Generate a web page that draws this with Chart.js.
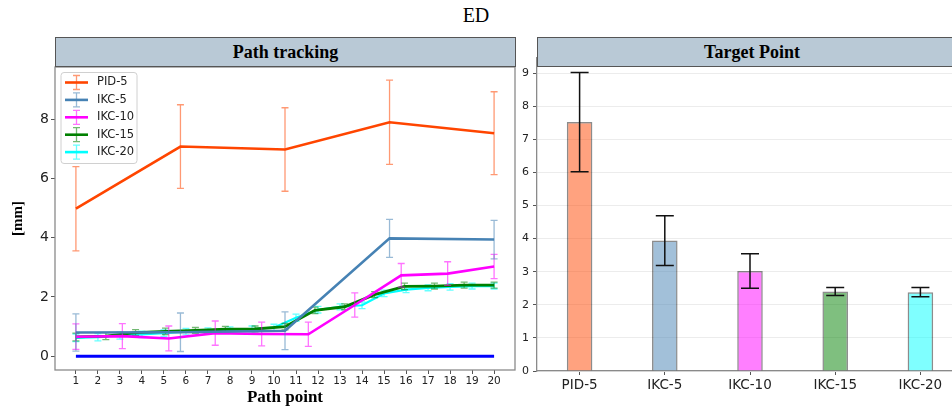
<!DOCTYPE html>
<html>
<head>
<meta charset="utf-8">
<script src="https://cdn.jsdelivr.net/npm/chart.js@4.4.1/dist/chart.umd.min.js"></script>
<style>
html, body { margin: 0; padding: 0; width: 952px; height: 412px; overflow: hidden; background: #fff; }
#suptitle { position: absolute; left: 0; top: 4px; width: 952px; text-align: center; font: 20px "Liberation Serif", serif; color: #000; }
.head { position: absolute; top: 37px; height: 30px; background: #b9c9d6; border: 1px solid #555; box-sizing: border-box; font: bold 18px "Liberation Serif", serif; text-align: center; line-height: 28px; color: #000; z-index: 2; }
#leftWrap { position: absolute; left: 0; top: 0; }
#rightWrap { position: absolute; left: 480px; top: 0; }
</style>
</head>
<body>
<div id="suptitle">ED</div>
<div class="head" style="left:55px; width:461px;">Path tracking</div>
<div class="head" style="left:537px; width:430px;">Target Point</div>
<div id="leftWrap"><canvas id="pathChart" width="525" height="412"></canvas></div>
<div id="rightWrap"><canvas id="targetChart" width="490" height="412"></canvas></div>

<script>
// path tracking data (x = path point, y = error in mm)
const pathX5 = [1, 5.75, 10.5, 15.25, 20];
const pathX10 = [1, 3.11, 5.22, 7.33, 9.44, 11.56, 13.67, 15.78, 17.89, 20];
const pathX15 = [1, 2.36, 3.71, 5.07, 6.43, 7.79, 9.14, 10.5, 11.86, 13.21, 14.57, 15.93, 17.29, 18.64, 20];
const pathX20 = [1, 2, 3, 4, 5, 6, 7, 8, 9, 10, 11, 12, 13, 14, 15, 16, 17, 18, 19, 20];

const pid5Mean = [4.98, 7.08, 6.98, 7.90, 7.53];
const pid5Err = [1.42, 1.41, 1.41, 1.42, 1.40];
const ikc5Mean = [0.80, 0.81, 0.86, 3.98, 3.94];
const ikc5Err = [0.63, 0.65, 0.64, 0.64, 0.65];
const ikc10Mean = [0.66, 0.68, 0.60, 0.78, 0.75, 0.74, 1.73, 2.73, 2.79, 3.03];
const ikc10Err = [0.43, 0.42, 0.42, 0.41, 0.40, 0.41, 0.41, 0.40, 0.40, 0.41];
const ikc15Mean = [0.65, 0.68, 0.80, 0.84, 0.87, 0.91, 0.92, 1.00, 1.55, 1.67, 2.08, 2.36, 2.37, 2.40, 2.40];
const ikc15Err = [0.13, 0.12, 0.10, 0.11, 0.10, 0.10, 0.10, 0.11, 0.11, 0.10, 0.10, 0.11, 0.10, 0.10, 0.10];
const ikc20Mean = [0.62, 0.64, 0.70, 0.74, 0.78, 0.83, 0.86, 0.88, 0.92, 0.97, 1.30, 1.57, 1.67, 1.72, 2.12, 2.25, 2.31, 2.34, 2.37, 2.37];
const ikc20Err = [0.13, 0.12, 0.12, 0.11, 0.11, 0.11, 0.10, 0.11, 0.10, 0.11, 0.12, 0.11, 0.10, 0.11, 0.11, 0.10, 0.10, 0.11, 0.10, 0.10];

const refLineX = [1, 20];
const refLineY = [0, 0];

const xTicksLeft = [1, 2, 3, 4, 5, 6, 7, 8, 9, 10, 11, 12, 13, 14, 15, 16, 17, 18, 19, 20];
const yTicksLeft = [0, 2, 4, 6, 8];

// target point data
const targetLabels = ["PID-5", "IKC-5", "IKC-10", "IKC-15", "IKC-20"];
const targetMean = [7.52, 3.94, 3.02, 2.40, 2.38];
const targetErr = [1.50, 0.75, 0.52, 0.12, 0.14];
const yTicksRight = [0, 1, 2, 3, 4, 5, 6, 7, 8, 9];

const barFill = ["rgba(255,69,0,0.5)", "rgba(70,130,180,0.5)", "rgba(255,0,255,0.5)", "rgba(0,128,0,0.5)", "rgba(0,255,255,0.5)"];

Chart.defaults.font.family = "'DejaVu Sans', sans-serif";
Chart.defaults.color = "#222";


function points(xs, ys) {
    return xs.map((x, i) => ({ x: x, y: ys[i] }));
}

function series(label, xs, ys, errs, color, errColor, width, order) {
    return {
        label: label,
        data: points(xs, ys),
        errors: errs,
        errorColor: errColor,
        borderColor: color,
        backgroundColor: color,
        borderWidth: width,
        pointRadius: 0,
        tension: 0,
        order: order
    };
}


// error bars drawn under each line, same as matplotlib errorbar
const lineErrorBars = {
    id: "lineErrorBars",
    beforeDatasetDraw(chart, args) {
        const ds = chart.data.datasets[args.index];
        if (!ds.errors) return;
        const ctx = chart.ctx;
        const xs = chart.scales.x, ys = chart.scales.y;
        const cap = 3.5;
        ctx.save();
        ctx.strokeStyle = ds.errorColor;
        ctx.lineWidth = 1.3;
        ds.data.forEach((p, i) => {
            const px = xs.getPixelForValue(p.x);
            const top = ys.getPixelForValue(p.y + ds.errors[i]);
            const bot = ys.getPixelForValue(p.y - ds.errors[i]);
            ctx.beginPath();
            ctx.moveTo(px, top); ctx.lineTo(px, bot);
            ctx.moveTo(px - cap, top); ctx.lineTo(px + cap, top);
            ctx.moveTo(px - cap, bot); ctx.lineTo(px + cap, bot);
            ctx.stroke();
        });
        ctx.restore();
    }
};


const frameAndLegend = {
    id: "frameAndLegend",
    afterDraw(chart) {
        const ctx = chart.ctx, a = chart.chartArea;
        ctx.save();
        ctx.strokeStyle = "#8a8a8a";
        ctx.lineWidth = 1.3;
        ctx.strokeRect(a.left, a.top, a.right - a.left, a.bottom - a.top);

        const items = chart.data.datasets.filter(d => d.errors);
        const bx = a.left + 6, by = a.top + 5.5, bw = 76, rowH = 17.4;
        const bh = items.length * rowH + 4;
        ctx.fillStyle = "rgba(255,255,255,0.85)";
        ctx.strokeStyle = "#d0d0d0";
        ctx.lineWidth = 1;
        ctx.beginPath();
        ctx.roundRect(bx, by, bw, bh, 3);
        ctx.fill();
        ctx.stroke();

        items.forEach((d, i) => {
            const cy = by + 10 + i * rowH;
            const cx = bx + 15.5;
            ctx.strokeStyle = d.errorColor;
            ctx.lineWidth = 1.3;
            ctx.beginPath();
            ctx.moveTo(cx, cy - 7); ctx.lineTo(cx, cy + 7);
            ctx.moveTo(cx - 3.5, cy - 7); ctx.lineTo(cx + 3.5, cy - 7);
            ctx.moveTo(cx - 3.5, cy + 7); ctx.lineTo(cx + 3.5, cy + 7);
            ctx.stroke();
            ctx.strokeStyle = d.borderColor;
            ctx.lineWidth = 2.6;
            ctx.beginPath();
            ctx.moveTo(bx + 4, cy); ctx.lineTo(bx + 27, cy);
            ctx.stroke();
            ctx.fillStyle = "#222";
            ctx.font = "11.5px 'DejaVu Sans'";
            ctx.textBaseline = "middle";
            ctx.fillText(d.label, bx + 36, cy);
        });
        ctx.restore();
    }
};


const barErrorBars = {
    id: "barErrorBars",
    afterDatasetsDraw(chart) {
        const ctx = chart.ctx, ys = chart.scales.y;
        const meta = chart.getDatasetMeta(0);
        const ds = chart.data.datasets[0];
        ctx.save();
        ctx.strokeStyle = "#111";
        ctx.lineWidth = 1.5;
        meta.data.forEach((bar, i) => {
            const top = ys.getPixelForValue(ds.data[i] + ds.errors[i]);
            const bot = ys.getPixelForValue(ds.data[i] - ds.errors[i]);
            ctx.beginPath();
            ctx.moveTo(bar.x, top); ctx.lineTo(bar.x, bot);
            ctx.moveTo(bar.x - 9, top); ctx.lineTo(bar.x + 9, top);
            ctx.moveTo(bar.x - 9, bot); ctx.lineTo(bar.x + 9, bot);
            ctx.stroke();
        });
        ctx.restore();
    }
};


function drawPathChart() {

    const ctx = document.getElementById("pathChart").getContext("2d");

    new Chart(ctx, {
        type: "line",
        data: {
            datasets: [
                series("PID-5", pathX5, pid5Mean, pid5Err, "#ff4500", "rgba(255,69,0,0.55)", 2.6, 1),
                series("IKC-5", pathX5, ikc5Mean, ikc5Err, "#4682b4", "rgba(70,130,180,0.55)", 2.6, 2),
                series("IKC-10", pathX10, ikc10Mean, ikc10Err, "#ff00ff", "rgba(255,0,255,0.55)", 2.6, 3),
                series("IKC-15", pathX15, ikc15Mean, ikc15Err, "#008000", "rgba(0,128,0,0.55)", 2.8, 4),
                series("IKC-20", pathX20, ikc20Mean, ikc20Err, "#00ffff", "rgba(0,255,255,0.6)", 2.2, 5),
                {
                    label: "ref",
                    data: points(refLineX, refLineY),
                    borderColor: "#0000ff",
                    borderWidth: 3,
                    pointRadius: 0,
                    order: 0
                }
            ]
        },
        options: {
            responsive: false,
            animation: false,
            layout: { padding: { top: 67, right: 10, left: 0, bottom: 0 } },
            plugins: { legend: { display: false }, tooltip: { enabled: false } },
            scales: {
                x: {
                    type: "linear",
                    min: 0.05,
                    max: 20.95,
                    afterBuildTicks: s => { s.ticks = xTicksLeft.map(v => ({ value: v })); },
                    afterFit: s => { s.height = 42; },
                    ticks: { font: { size: 10.5 }, padding: 1, maxRotation: 0, autoSkip: false },
                    grid: { drawOnChartArea: false, tickLength: 4, tickColor: "#555" },
                    border: { display: false },
                    title: {
                        display: true,
                        text: "Path point",
                        color: "#000",
                        font: { family: "'Liberation Serif', serif", weight: "bold", size: 17 },
                        padding: { top: 0, bottom: 4 }
                    }
                },
                y: {
                    type: "linear",
                    min: -0.465,
                    max: 9.765,
                    afterBuildTicks: s => { s.ticks = yTicksLeft.map(v => ({ value: v })); },
                    afterFit: s => { s.width = 55; },
                    ticks: { font: { size: 14 }, padding: 2 },
                    grid: { drawOnChartArea: false, tickLength: 4, tickColor: "#555" },
                    border: { display: false },
                    title: {
                        display: true,
                        text: "[mm]",
                        color: "#000",
                        font: { family: "'Liberation Serif', serif", weight: "bold", size: 15 },
                        padding: { top: 9, bottom: 0 }
                    }
                }
            }
        },
        plugins: [lineErrorBars, frameAndLegend]
    });
}


function drawTargetChart() {

    const ctx = document.getElementById("targetChart").getContext("2d");

    new Chart(ctx, {
        type: "bar",
        data: {
            labels: targetLabels,
            datasets: [{
                data: targetMean,
                errors: targetErr,
                backgroundColor: barFill,
                borderColor: "rgba(0,0,0,0.45)",
                borderWidth: 1.5,
                barPercentage: 0.3,
                categoryPercentage: 1
            }]
        },
        options: {
            responsive: false,
            animation: false,
            layout: { padding: { top: 57.5, right: 7, left: 0, bottom: 0 } },
            plugins: { legend: { display: false }, tooltip: { enabled: false } },
            scales: {
                x: {
                    afterFit: s => { s.height = 41; },
                    ticks: { font: { size: 13.5 }, padding: 2 },
                    grid: { offset: false, drawOnChartArea: false, tickLength: 4, tickColor: "#555" },
                    border: { color: "#8a8a8a", width: 1.3 }
                },
                y: {
                    min: 0,
                    max: 9.47,
                    afterBuildTicks: s => { s.ticks = yTicksRight.map(v => ({ value: v })); },
                    afterFit: s => { s.width = 57; },
                    ticks: { font: { size: 11 }, padding: 4 },
                    grid: { color: "#ececec", tickLength: 4, tickColor: "#555" },
                    border: { color: "#8a8a8a", width: 1.3 }
                }
            }
        },
        plugins: [barErrorBars]
    });
}


window.onload = function () {

    drawPathChart();
    drawTargetChart();

};
</script>
</body>
</html>
